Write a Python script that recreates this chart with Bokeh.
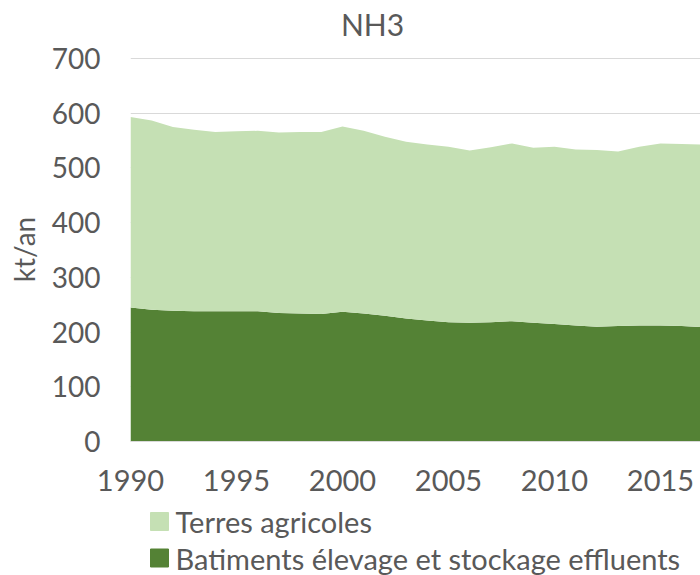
from bokeh.plotting import figure
from bokeh.layouts import column
from bokeh.models import ColumnDataSource, Range1d, FixedTicker
from bokeh.core.properties import value
from bokeh.embed import file_html
from bokeh.resources import INLINE

years = list(range(1990, 2018))
batiments = [245, 241, 239, 238, 238, 238, 238, 235, 234, 233, 237, 234, 230, 225,
             221, 218, 217, 218, 220, 217, 215, 212, 210, 211, 212, 212, 211, 209]
terres = [348, 346, 336, 332, 328, 329, 330, 330, 332, 333, 339, 334, 327, 323,
          322, 321, 315, 320, 325, 320, 324, 322, 323, 319, 327, 333, 333, 334]
x_ticks = [1990, 1995, 2000, 2005, 2010, 2015]
y_ticks = [0, 100, 200, 300, 400, 500, 600, 700]
legend_labels = ["Terres agricoles", "Batiments élevage et stockage effluents"]
title_text = "NH3"

FONT = "Lato"
TXT = "#595959"
DARK = "#548235"
LIGHT = "#C5E0B4"
LEFT = 130
FW = 570


def strip(h):
    f = figure(frame_width=FW, frame_height=h, output_backend="svg", toolbar_location=None,
               min_border_left=LEFT, min_border_right=0, min_border_top=0, min_border_bottom=0,
               x_range=Range1d(LEFT, LEFT + FW), y_range=Range1d(h, 0))
    f.axis.visible = False
    f.grid.visible = False
    f.outline_line_color = None
    f.title = None
    return f


# title strip (pixel coordinates)
T_H = 41
top = strip(T_H)
top.text(x=[372], y=[23], text=[title_text], text_font=value(FONT), text_font_size="30px",
         text_color=TXT, text_align="center", text_baseline="middle")

# main chart
src = ColumnDataSource(dict(year=years, bat=batiments, terres=terres))
p = figure(frame_width=FW, frame_height=384, output_backend="svg", toolbar_location=None,
           min_border_left=LEFT, min_border_right=0, min_border_top=16, min_border_bottom=60,
           x_range=Range1d(1990, 1990 + FW / 21.2), y_range=Range1d(0, 702))
p.title = None
r = p.varea_stack(["bat", "terres"], x="year", color=[DARK, LIGHT], source=src)

p.outline_line_color = None
p.xgrid.grid_line_color = None
p.ygrid.grid_line_color = "#D9D9D9"
p.ygrid.ticker = FixedTicker(ticks=y_ticks)

p.xaxis.ticker = FixedTicker(ticks=x_ticks)
p.yaxis.ticker = FixedTicker(ticks=y_ticks)
for ax in (p.xaxis[0], p.yaxis[0]):
    ax.major_tick_line_color = None
    ax.minor_tick_line_color = None
    ax.major_label_text_font = FONT
    ax.major_label_text_color = TXT
    ax.major_tick_out = 0
    ax.major_tick_in = 0
p.xaxis.major_label_text_font_size = "29px"
p.yaxis.major_label_text_font_size = "28px"
p.xaxis.axis_line_color = "#D9D9D9"
p.yaxis.axis_line_color = None
p.xaxis.major_label_standoff = 28
p.yaxis.major_label_standoff = 30
p.yaxis.axis_label = "kt/an"
p.yaxis.axis_label_text_font = FONT
p.yaxis.axis_label_text_font_size = "28px"
p.yaxis.axis_label_text_font_style = "normal"
p.yaxis.axis_label_text_color = TXT
p.yaxis.axis_label_standoff = 8

# legend strip (pixel coordinates)
L_H = 74
leg = strip(L_H)
leg_src = ColumnDataSource(dict(x=[159, 159], y=[20, 56.5], label=legend_labels,
                                color=[LIGHT, DARK], tx=[175, 175]))
leg.rect(x="x", y="y", width=18, height=18, color="color", source=leg_src)
leg.text(x="tx", y="y", text="label", source=leg_src, text_font=value(FONT),
         text_font_size="29px", text_color=TXT, text_baseline="middle", text_align="left")

layout = column(top, p, leg, spacing=0)
open("out.html", "w").write(file_html(layout, INLINE))
